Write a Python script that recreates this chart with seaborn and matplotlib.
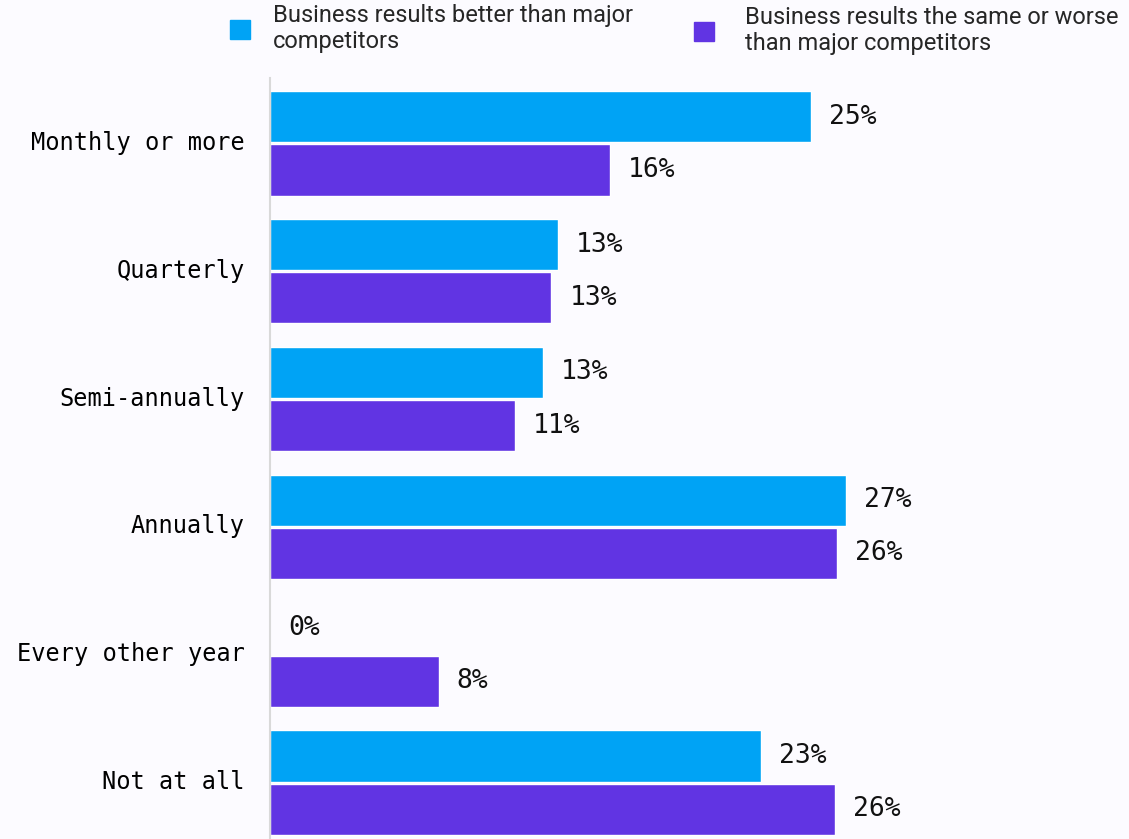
import matplotlib.pyplot as plt
import matplotlib.patches as mpatches
import matplotlib.transforms as mtransforms
import pandas as pd
import seaborn as sns

# values (percent of respondents)
categories = ["Monthly or more", "Quarterly", "Semi-annually", "Annually",
              "Every other year", "Not at all"]
better = [25.0, 13.3, 12.6, 26.6, 0.0, 22.7]
same_or_worse = [15.7, 13.0, 11.3, 26.2, 7.8, 26.1]
series_names = ["Business results better than major\ncompetitors",
                "Business results the same or worse\nthan major competitors"]
colors = ["#00a3f5", "#6134e3"]
bg = "#fcfbff"

df = pd.DataFrame({
    "frequency": categories * 2,
    "share": better + same_or_worse,
    "group": [series_names[0]] * len(categories) + [series_names[1]] * len(categories),
})

sns.set_style("white")
plt.rcParams["font.family"] = ["DejaVu Sans Mono", "DejaVu Sans"]

fig = plt.figure(figsize=(11.29, 8.39), dpi=100, facecolor=bg)
ax = fig.add_axes([270 / 1129, 0, 859 / 1129, 761 / 839])
ax.set_facecolor(bg)

sns.barplot(data=df, y="frequency", x="share", hue="group", order=categories,
            hue_order=series_names, palette=colors, saturation=1,
            width=0.83, gap=0.03, orient="h", legend=False, ax=ax)

ax.set_xlim(0, 39.7)
ax.set_ylim(5.44, -0.51)
ax.set_xlabel("")
ax.set_ylabel("")
ax.set_xticks([])
ax.tick_params(axis="y", length=0, pad=18, labelsize=17, labelcolor="black")
# nudge category labels up a little
shift = mtransforms.ScaledTranslation(0, 3 / 100, fig.dpi_scale_trans)
for lab in ax.get_yticklabels():
    lab.set_transform(lab.get_transform() + shift)
for side in ["top", "right", "bottom"]:
    ax.spines[side].set_visible(False)
ax.spines["left"].set_color("#d9d9d9")
ax.spines["left"].set_linewidth(1.5)

for cont in ax.containers:
    ax.bar_label(cont, fmt="{:.0f}%", padding=13, fontsize=19, color="#111111")

# legend: two separate entries across the top
anchors = [(230 / 1129, 1 - 4 / 839), (694 / 1129, 1 - 6 / 839)]
pads = [0.97, 1.3]
for name, col, anchor, pad in zip(series_names, colors, anchors, pads):
    leg = fig.legend(handles=[mpatches.Patch(color=col)], labels=[name],
                     loc="upper left", bbox_to_anchor=anchor, frameon=False,
                     prop={"family": "Roboto", "size": 17},
                     handlelength=0.85, handleheight=0.85, handletextpad=pad,
                     borderpad=0, borderaxespad=0)
    for t in leg.get_texts():
        t.set_linespacing(1.15)
        t.set_color("#262626")

fig.savefig("out.png", dpi=100, facecolor=bg)
